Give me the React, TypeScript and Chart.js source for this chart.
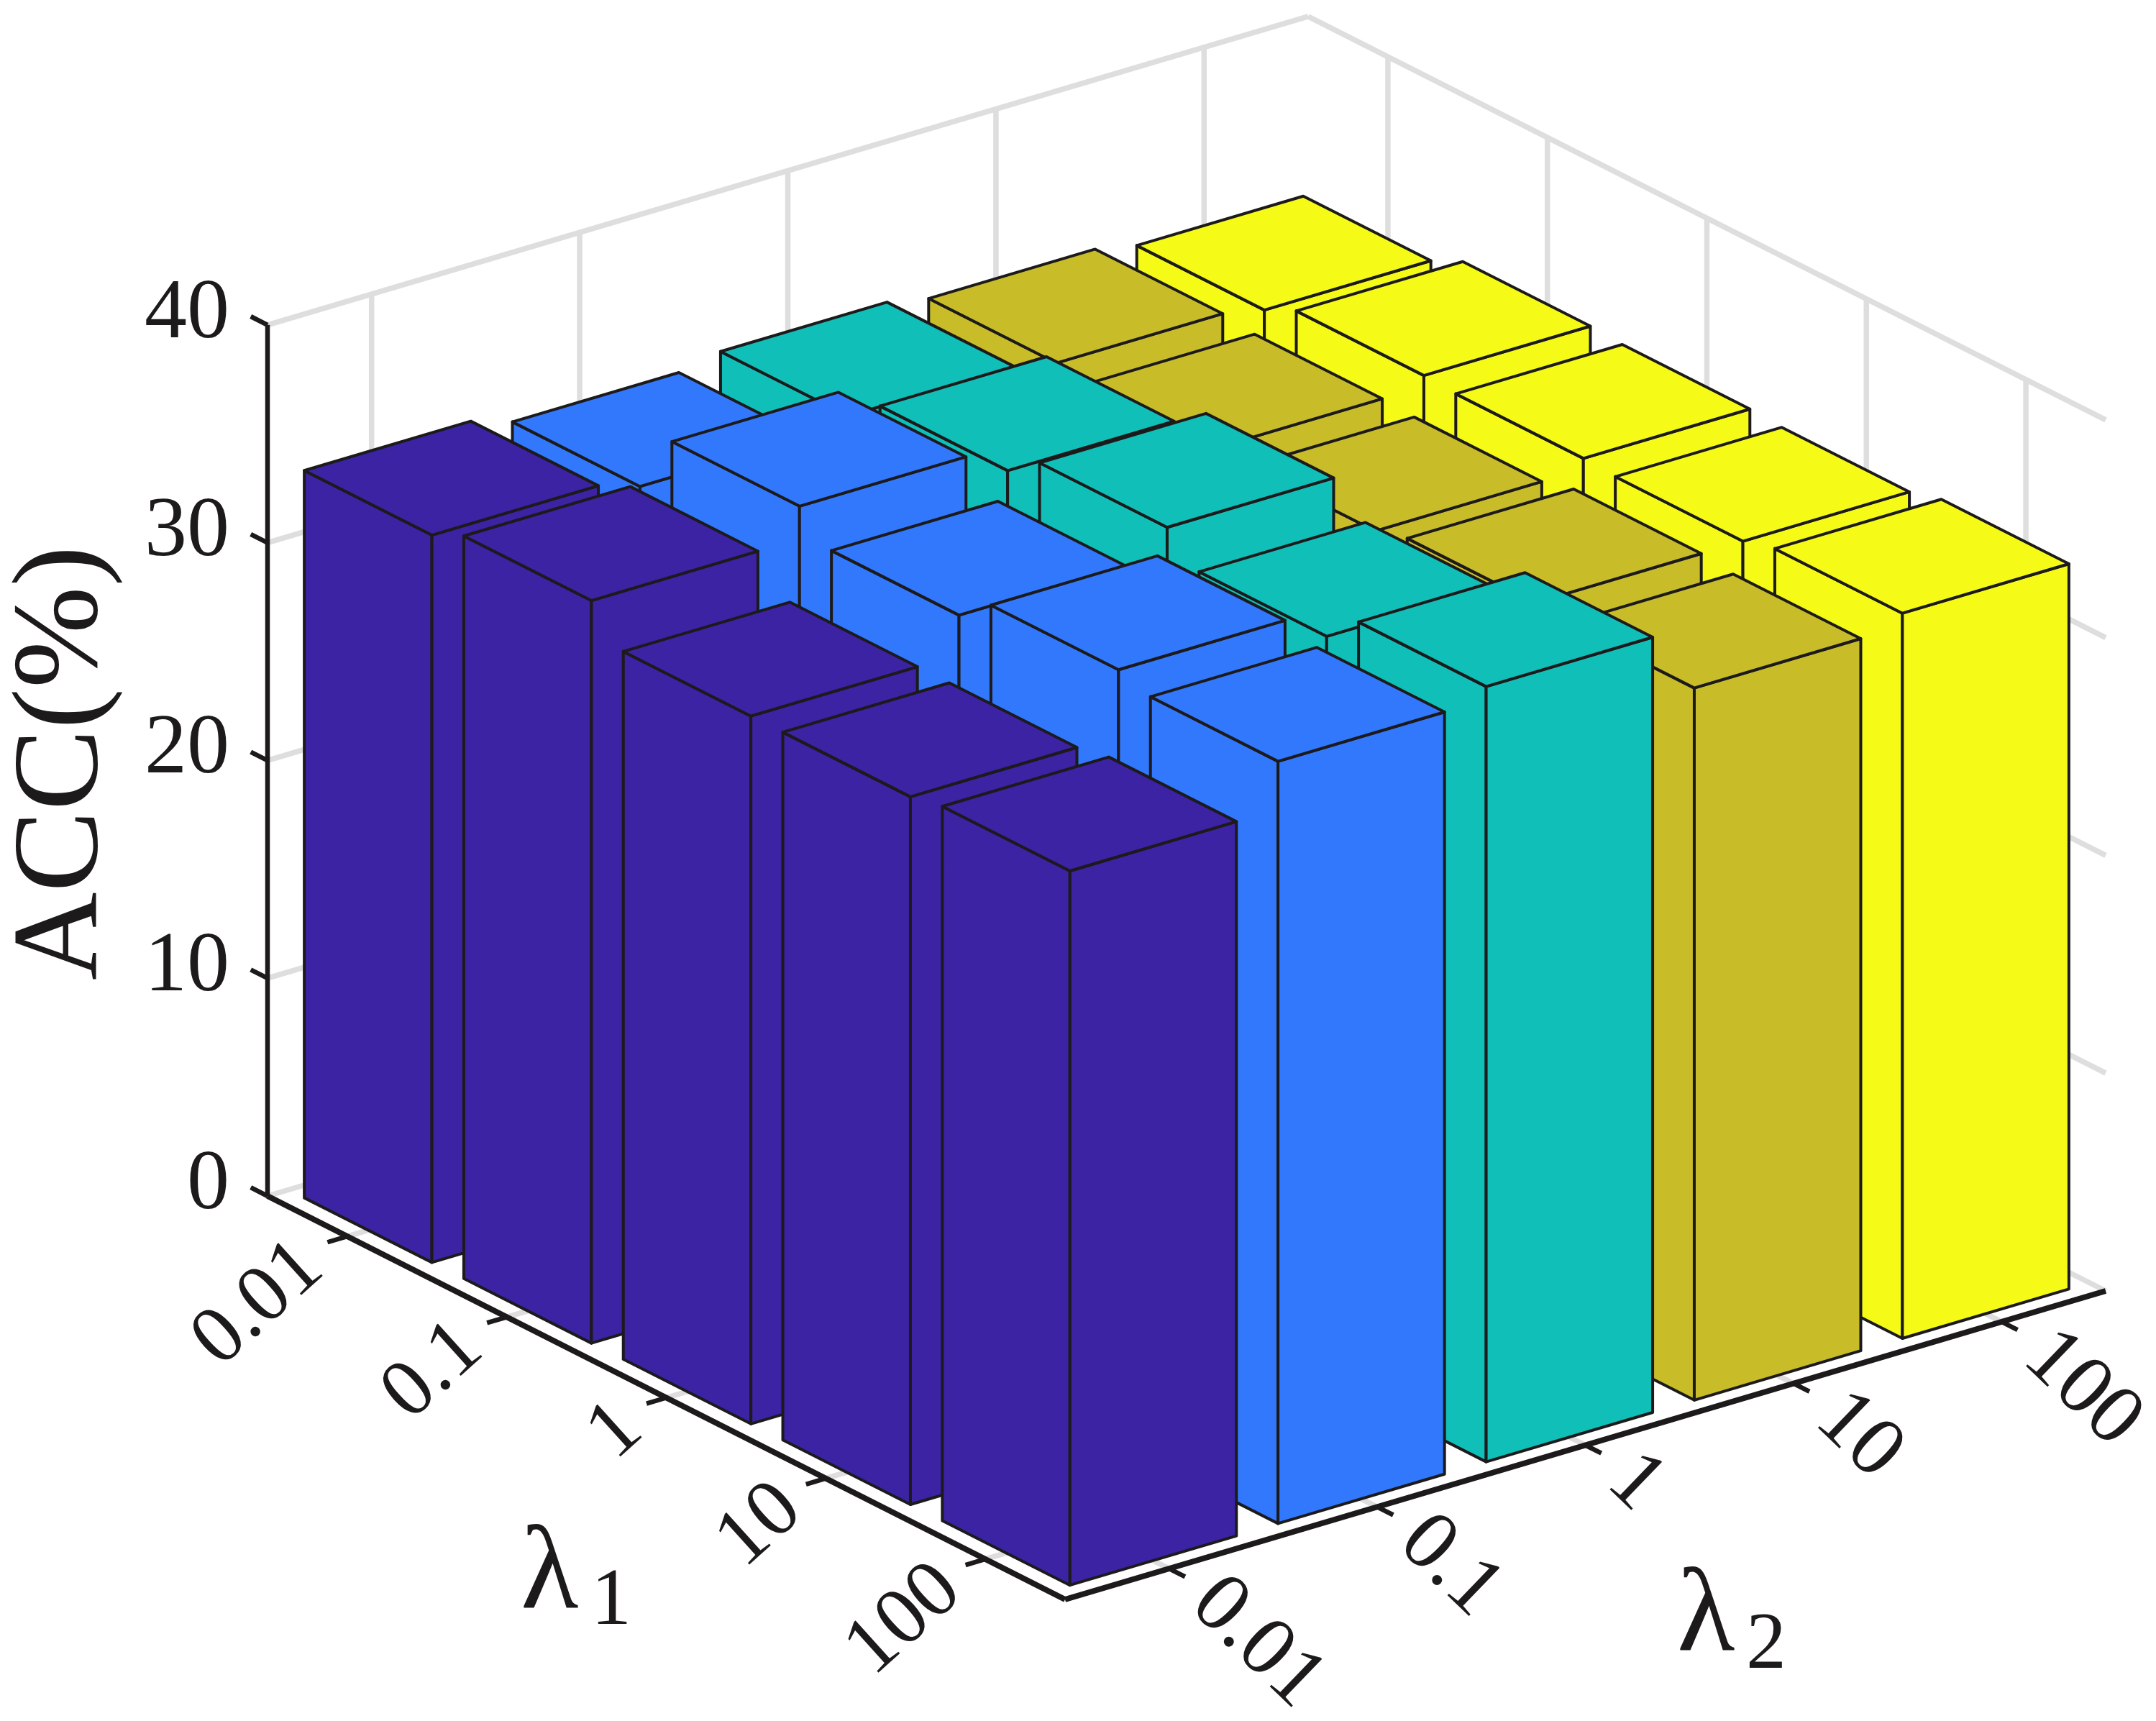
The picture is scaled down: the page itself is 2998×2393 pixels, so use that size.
import React, { useEffect, useRef } from "react";
import { Chart, registerables } from "chart.js";

Chart.register(...registerables);

// ---------- data ----------
const lambda1Labels = ["0.01", "0.1", "1", "10", "100"];
const lambda2Labels = ["0.01", "0.1", "1", "10", "100"];
const accTicks = [0, 10, 20, 30, 40];

// ACC(%) by lambda1 (left to right along the lambda1 axis), one list per lambda2
const accL2_001 = [33.4, 34.1, 32.5, 32.5, 32.8];
const accL2_01 = [32.8, 35.6, 34.3, 35.5, 35.0];
const accL2_1 = [33.2, 34.4, 35.5, 34.2, 35.6];
const accL2_10 = [32.8, 32.6, 32.5, 32.9, 32.7];
const accL2_100 = [32.4, 33.1, 33.0, 32.9, 33.3];
const accRows = [accL2_001, accL2_01, accL2_1, accL2_10, accL2_100];
const rowColors = ["#3B23A4", "#3278FC", "#10BFB8", "#C8BD29", "#F5FB17"];

// ---------- view (oblique projection of the 3D box onto the canvas) ----------
const W = 2998;
const H = 2393;
const FONT = "'Liberation Serif', 'Times New Roman', serif";
const INK = "#1c1a1b";
const GRID = "#dedede";
const AXIS_X = 373;
const ORIGIN = { x: 372, y: 1663 };
const U = { x: 1109, y: 561 }; // lambda1 axis
const V = { x: 1447, y: -429 }; // lambda2 axis
const Z_PX = 30.28; // pixels per ACC unit
const N = 5;
const HALF = 0.08; // half bar width, as a fraction of the axis
const Z_MAX = accTicks[accTicks.length - 1];

const project = (u: number, v: number, z: number) => ({
  x: ORIGIN.x + u * U.x + v * V.x,
  y: z - (u * U.y + v * V.y) / Z_PX,
});
const tickPos = (i: number) => (i + 0.5) / N;

const poly = (pts: { x: number; y: number }[], fill: string | null, color: string, width: number) => ({
  data: pts,
  showLine: true,
  pointRadius: 0,
  pointHoverRadius: 0,
  borderColor: color,
  borderWidth: width,
  borderJoinStyle: "round",
  borderCapStyle: fill ? "round" : "butt",
  backgroundColor: fill ?? "transparent",
  fill: fill ? "shape" : false,
  clip: false,
  tension: 0,
});

function buildDatasets() {
  const out: any[] = [];
  const line = (a: any, b: any, color: string, w: number) => out.push(poly([a, b], null, color, w));

  // walls and floor grid
  for (const z of accTicks) {
    line(project(0, 0, z), project(0, 1, z), GRID, 7.5);
    line(project(0, 1, z), project(1, 1, z), GRID, 7.5);
  }
  for (let i = 0; i < N; i++) {
    const t = tickPos(i);
    line(project(0, t, 0), project(0, t, Z_MAX), GRID, 7.5);
    line(project(t, 1, 0), project(t, 1, Z_MAX), GRID, 7.5);
    line(project(t, 0, 0), project(t, 1, 0), GRID, 7.5);
    line(project(0, t, 0), project(1, t, 0), GRID, 7.5);
  }
  line(project(1, 1, 0), project(1, 0, 0), GRID, 7.5);

  // black axes and tick marks
  line(project(0, 0, 0), project(0, 0, Z_MAX), INK, 6.5);
  line(project(0, 0, 0), project(1, 0, 0), INK, 8);
  line(project(1, 0, 0), project(1, 1, 0), INK, 8);
  for (const z of accTicks) line(project(0, 0, z), project(-0.021, 0, z), INK, 6.5);
  for (let i = 0; i < N; i++) {
    const t = tickPos(i);
    line(project(t, 0, 0), project(t, -0.019, 0), INK, 6.5);
    line(project(1, t, 0), project(1.02, t, 0), INK, 6.5);
  }

  // bars, back to front
  for (let j = N - 1; j >= 0; j--) {
    for (let i = 0; i < N; i++) {
      const h = accRows[j][i];
      const u = tickPos(i);
      const v = tickPos(j);
      const c = rowColors[j];
      const corner = (du: number, dv: number, z: number) => project(u + du * HALF, v + dv * HALF, z);
      const face = (a: number[], b: number[]) => [
        corner(a[0], a[1], 0),
        corner(b[0], b[1], 0),
        corner(b[0], b[1], h),
        corner(a[0], a[1], h),
        corner(a[0], a[1], 0),
      ];
      out.push(poly(face([-1, -1], [1, -1]), c, INK, 4));
      out.push(poly(face([1, -1], [1, 1]), c, INK, 4));
      out.push(
        poly(
          [corner(-1, -1, h), corner(1, -1, h), corner(1, 1, h), corner(-1, 1, h), corner(-1, -1, h)],
          c,
          INK,
          4
        )
      );
    }
  }
  // chart.js paints the highest order first
  out.forEach((d, k) => (d.order = out.length - k));
  return out;
}

const labelsPlugin = {
  id: "boxLabels",
  afterDatasetsDraw(chart: any) {
    const { ctx, scales } = chart;
    const toPx = (p: { x: number; y: number }) => ({
      x: scales.x.getPixelForValue(p.x),
      y: scales.y.getPixelForValue(p.y),
    });
    const text = (s: string, x: number, y: number, size: number, rot = 0, align = "center", base = "middle") => {
      ctx.save();
      ctx.translate(x, y);
      ctx.rotate((rot * Math.PI) / 180);
      ctx.font = `${size}px ${FONT}`;
      ctx.fillStyle = INK;
      ctx.textAlign = align;
      ctx.textBaseline = base;
      ctx.fillText(s, 0, 0);
      ctx.restore();
    };
    lambda1Labels.forEach((s, i) => {
      const p = toPx(project(tickPos(i), 0, 0));
      text(s, p.x - 49, p.y + 28, 114, -42, "right");
    });
    lambda2Labels.forEach((s, i) => {
      const p = toPx(project(1, tickPos(i), 0));
      text(s, p.x + 48, p.y + 32, 118, 44, "left");
    });
    text("ACC(%)", 134, 1061, 170, -90, "center", "alphabetic");
    text("λ", 724, 2235, 166, 0, "left", "alphabetic");
    text("1", 822, 2258, 112, 0, "left", "alphabetic");
    text("λ", 2332, 2294, 166, 0, "left", "alphabetic");
    text("2", 2428, 2319, 112, 0, "left", "alphabetic");
  },
};

export default function App() {
  const ref = useRef<HTMLCanvasElement>(null);
  useEffect(() => {
    if (!ref.current) return;
    const chart = new Chart(ref.current, {
      type: "scatter",
      data: { datasets: buildDatasets() as any },
      plugins: [labelsPlugin as any],
      options: {
        animation: false,
        responsive: false,
        devicePixelRatio: 1,
        events: [],
        layout: { padding: 0 },
        plugins: {
          legend: { display: false },
          tooltip: { enabled: false },
          filler: { drawTime: "beforeDatasetDraw", propagate: false },
        } as any,
        scales: {
          x: { type: "linear", display: false, min: AXIS_X, max: W },
          y: {
            type: "linear",
            min: -(H - ORIGIN.y) / Z_PX,
            max: ORIGIN.y / Z_PX,
            afterBuildTicks: (s: any) => {
              s.ticks = accTicks.map((value) => ({ value }));
            },
            afterFit: (s: any) => {
              s.width = AXIS_X;
              s.paddingTop = 0;
              s.paddingBottom = 0;
              s.paddingLeft = 0;
              s.paddingRight = 0;
            },
            grid: { display: false, drawTicks: false },
            border: { display: false },
            ticks: {
              autoSkip: false,
              maxRotation: 0,
              padding: 54,
              labelOffset: -14,
              color: INK,
              font: { family: FONT, size: 118 },
              callback: (v: any) => String(v),
            },
          },
        },
      } as any,
    });
    return () => chart.destroy();
  }, []);
  return (
    <div style={{ position: "absolute", left: 0, top: 0, width: W, height: H }}>
      <canvas ref={ref} width={W} height={H} style={{ display: "block", width: W, height: H }} />
    </div>
  );
}
